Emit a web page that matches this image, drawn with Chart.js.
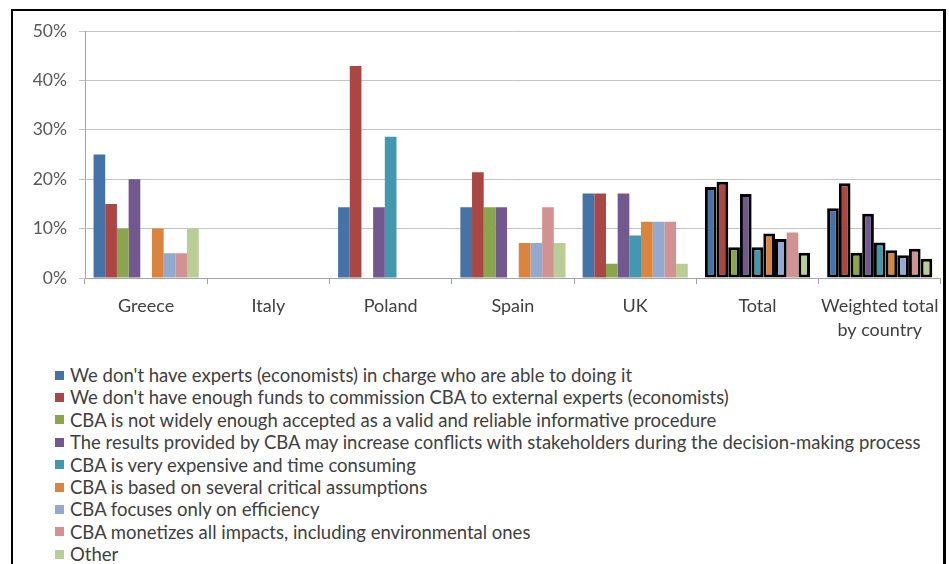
<!DOCTYPE html>
<html>
<head>
<meta charset="utf-8">
<script src="https://cdn.jsdelivr.net/npm/chart.js@4.4.1/dist/chart.umd.min.js"></script>
<style>
  html, body { margin: 0; padding: 0; background: #fff; width: 949px; height: 564px; overflow: hidden; }
  #frame { position: absolute; left: 11px; top: 9px; width: 930px; height: 600px; border: 2px solid #000; border-right-width: 3px; }
  #c { position: absolute; left: 0; top: 0; }
  #legend { position: absolute; left: 55px; top: 364px; font-family: Lato, sans-serif; font-size: 18.5px; color: #404040; }
  #legend div { height: 22.4px; line-height: 22.4px; white-space: nowrap; display: flex; align-items: center; }
  #legend span.box { display: inline-block; width: 9px; height: 9px; margin-right: 6px; }
</style>
</head>
<body>
<div id="frame"></div>
<canvas id="c" width="949" height="345"></canvas>
<div id="legend"></div>
<script>
var categories = ['Greece', 'Italy', 'Poland', 'Spain', 'UK', 'Total', ['Weighted total', 'by country']];

var noExperts   = [25, 0, 14.3, 14.3, 17.1, 18.4, 14.1];
var noFunds     = [15, 0, 42.9, 21.4, 17.1, 19.5, 19.2];
var notAccepted = [10, 0, 0, 14.3, 2.9, 6.2, 5.1];
var conflicts   = [20, 0, 14.3, 14.3, 17.1, 17.0, 13.0];
var expensive   = [0, 0, 28.6, 0, 8.6, 6.2, 7.2];
var assumptions = [10, 0, 0, 7.1, 11.4, 9.0, 5.6];
var efficiency  = [5, 0, 0, 7.1, 11.4, 7.9, 4.6];
var monetizes   = [5, 0, 0, 14.3, 11.4, 9.2, 5.9];
var other       = [10, 0, 0, 7.1, 2.9, 5.1, 3.9];

var yTicks = [0, 10, 20, 30, 40, 50];

var series = [
  { label: "We don't have experts (economists) in charge who are able to doing it", data: noExperts, color: '#4572A7' },
  { label: "We don't have enough funds to commission CBA to external experts (economists)", data: noFunds, color: '#AA4643' },
  { label: 'CBA is not widely enough accepted as a valid and reliable informative procedure', data: notAccepted, color: '#89A54E' },
  { label: 'The results provided by CBA may increase conflicts with stakeholders during the decision-making process', data: conflicts, color: '#71588F' },
  { label: 'CBA is very expensive and time consuming', data: expensive, color: '#4198AF' },
  { label: 'CBA is based on several critical assumptions', data: assumptions, color: '#DB843D' },
  { label: 'CBA focuses only on efficiency', data: efficiency, color: '#93A9CF' },
  { label: 'CBA monetizes all impacts, including environmental ones', data: monetizes, color: '#D19392' },
  { label: 'Other', data: other, color: '#B9CD96' }
];

// total columns get a black outline (pink one in "Total" has none)
var datasets = series.map(function(s, k) {
  var bw = [0, 0, 0, 0, 0, 3, 3];
  if (k === 7) bw[5] = 0;
  return {
    label: s.label,
    data: s.data,
    backgroundColor: s.color,
    borderColor: '#000',
    borderWidth: bw,
    borderSkipped: false,
    categoryPercentage: 0.86,
    barPercentage: 1.0
  };
});

var font = { family: 'Lato, sans-serif', size: 18, lineHeight: 1.35 };

new Chart(document.getElementById('c'), {
  type: 'bar',
  data: { labels: categories, datasets: datasets },
  options: {
    responsive: false,
    animation: false,
    devicePixelRatio: 1,
    layout: { padding: { left: 0, right: 8, top: 31, bottom: 0 } },
    plugins: { legend: { display: false }, tooltip: { enabled: false } },
    scales: {
      x: {
        grid: { offset: true, drawOnChartArea: false, tickLength: 6, color: '#a6a6a6' },
        border: { color: '#a6a6a6' },
        ticks: { font: font, color: '#404040', padding: 10, maxRotation: 0, autoSkip: false },
        afterFit: function(scale) { scale.height = 67; }
      },
      y: {
        min: 0, max: 50,
        afterBuildTicks: function(scale) { scale.ticks = yTicks.map(function(v) { return { value: v }; }); },
        ticks: { font: { family: 'Lato, sans-serif', size: 17.5 }, color: '#595959', padding: 12, callback: function(v) { return v + '%'; } },
        grid: { color: '#c4c4c4', tickLength: 6 },
        border: { color: '#a6a6a6' },
        afterFit: function(scale) { scale.width = 85; }
      }
    }
  }
});

var leg = document.getElementById('legend');
series.forEach(function(s) {
  var row = document.createElement('div');
  var box = document.createElement('span');
  box.className = 'box';
  box.style.background = s.color;
  row.appendChild(box);
  row.appendChild(document.createTextNode(s.label));
  leg.appendChild(row);
});
</script>
</body>
</html>
